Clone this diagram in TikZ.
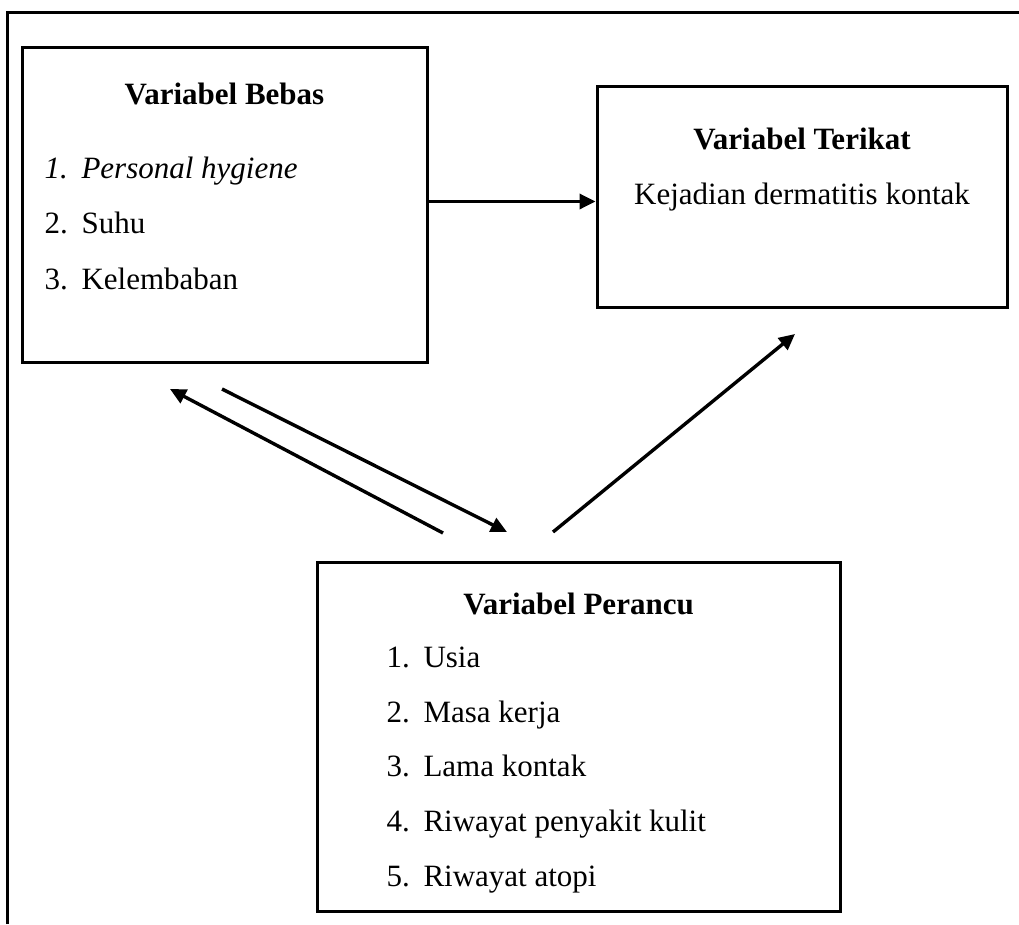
\documentclass[tikz,border=0pt]{standalone}
\usepackage{fontspec}
\setmainfont{Liberation Serif}
\usepackage{tikz}
\usetikzlibrary{arrows.meta}

\tikzset{
  varbox/.style={draw, line width=3pt, minimum width=#1},
  headtxt/.style={anchor=base, font=\fontsize{31}{37}\selectfont\bfseries},
  itemtxt/.style={anchor=base west, font=\fontsize{31}{37}\selectfont},
  link/.style={line width=3.4pt, -{Triangle[length=16pt,width=15pt]}}
}

\begin{document}
\begin{tikzpicture}[x=1pt, y=-1pt]
\useasboundingbox (0,0) rectangle (1019,924);

% outer frame (only top and left fall inside the page)
\draw[line width=3pt] (7,924) -- (7,12) -- (1019,12);

% boxes
\node (bebas) [varbox=405pt, minimum height=315pt] at (224.5,204.5) {};
\node (terikat) [varbox=410pt, minimum height=221pt] at (802,196.5) {};
\node (perancu) [varbox=523pt, minimum height=349pt] at (578.5,736.5) {};

% box texts
\node (bebasT) [headtxt] at (224.5,104) {Variabel Bebas};
\node (b1n) [itemtxt] at (41,178) {\itshape 1.};
\node (b1) [itemtxt] at (78,178) {\itshape Personal hygiene};
\node (b2n) [itemtxt] at (41,233) {2.};
\node (b2) [itemtxt] at (78,233) {Suhu};
\node (b3n) [itemtxt] at (41,289) {3.};
\node (b3) [itemtxt] at (78,289) {Kelembaban};

\node (terikatT) [headtxt] at (802,149) {Variabel Terikat};
\node (terikat1) [anchor=base, font=\fontsize{31}{37}\selectfont] at (802,204) {Kejadian dermatitis kontak};

\node (perancuT) [headtxt] at (578.5,614) {Variabel Perancu};
\foreach \i/\t/\y in {1/Usia/667, 2/Masa kerja/722, 3/Lama kontak/776, 4/Riwayat penyakit kulit/831, 5/Riwayat atopi/886}{
  \node (p\i n) [itemtxt] at (383,\y) {\i.};
  \node (p\i) [itemtxt] at (420,\y) {\t};
}

% arrow ends
\coordinate (a1s) at (443,533);
\coordinate (a1e) at (170,389);
\coordinate (a2s) at (222,389);
\coordinate (a2e) at (507,532);
\coordinate (a3s) at (553,532);
\coordinate (a3e) at (795,334);

% arrows
\draw[link] ([yshift=3pt]bebas.east) -- ([yshift=3pt]bebas.east -| terikat.west);
\draw[link] (a1s) -- (a1e);
\draw[link] (a2s) -- (a2e);
\draw[link] (a3s) -- (a3e);

\end{tikzpicture}
\end{document}
